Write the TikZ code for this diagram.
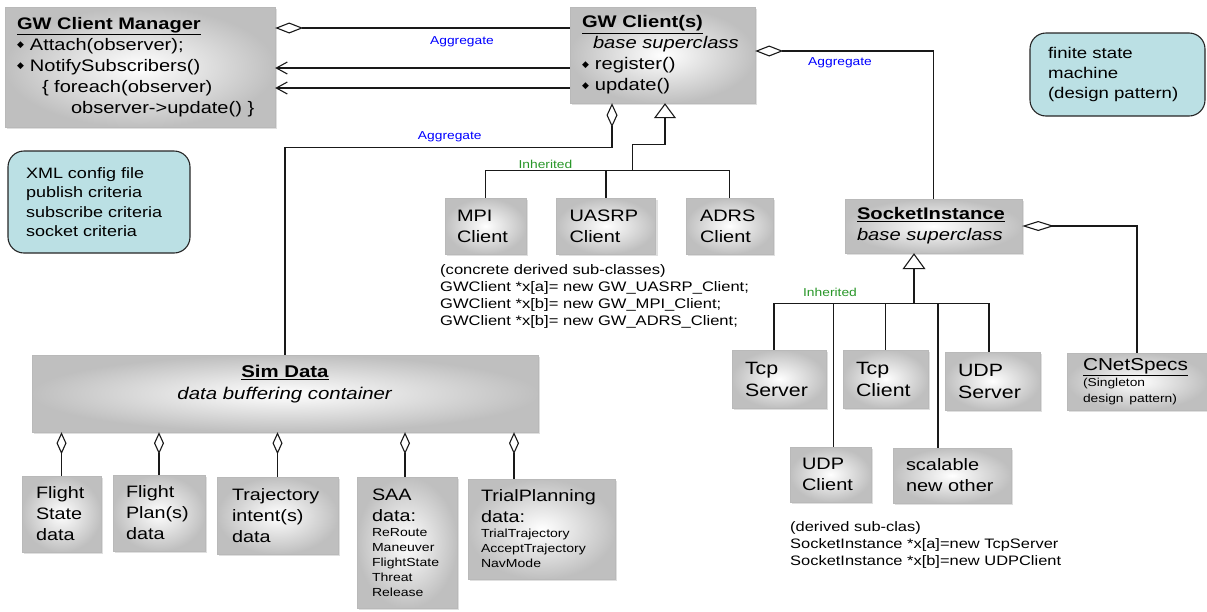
\documentclass[tikz,border=0pt]{standalone}
\usepackage{fontspec}
\setmainfont{Liberation Sans}[FakeStretch=1.2]
\newfontfamily\bulfont{DejaVu Sans}
\usetikzlibrary{arrows.meta, shadows, calc}

\definecolor{notefill}{RGB}{187,224,228}
\definecolor{inhgreen}{RGB}{40,150,40}
\newcommand{\setfs}[2]{\fontsize{#1}{#2}\selectfont}
\newcommand{\bul}{\raisebox{2.5pt}{\bulfont\fontsize{9}{9}\selectfont ◆}\hspace{6pt}}

\begin{document}
\begin{tikzpicture}[x=1pt, y=-1pt,
    cls/.style={rectangle, draw=gray!55, inner color=white, outer color=gray!50, drop shadow={shadow xshift=2pt, shadow yshift=-2pt, opacity=.25}, align=left, inner ysep=0pt},
    note/.style={rectangle, rounded corners=16pt, draw=black!85, line width=1.1pt, fill=notefill, align=left},
    wire/.style={draw=black!90, line width=1.1pt},
    aggr/.style={wire, -{Diamond[open, length=28pt, width=11pt]}},
    aggrs/.style={wire, -{Diamond[open, length=22pt, width=10pt]}},
    inh/.style={wire, -{Triangle[open, length=15pt, width=22pt]}},
    msg/.style={wire, -{Straight Barb[length=11pt, width=12pt]}},
    lbl/.style={font=\setfs{11.5}{13}, text=blue, inner sep=0pt},
    inhlbl/.style={font=\setfs{11.5}{13}, text=inhgreen, inner sep=0pt}
]
\useasboundingbox (0,0) rectangle (1207,611);

% observer side
\node[cls, minimum width=270pt, minimum height=120pt, inner xsep=12pt, text width=246pt, font=\setfs{16.7}{21}] (mgr) at (140,67)
  {\underline{\textbf{GW Client Manager}}\\\bul Attach(observer);\\\bul NotifySubscribers()\\\hspace*{25pt}\{ foreach(observer)\\\hspace*{54pt}observer->update() \}};
\node[cls, minimum width=185pt, minimum height=96pt, inner xsep=12pt, text width=161pt, font=\setfs{16.8}{21}] (gwc) at (662.5,55)
  {\underline{\textbf{GW Client(s)}}\\\hspace*{11pt}\textit{base superclass}\\\bul register()\\\bul update()};

% notes
\node[note, minimum width=175pt, minimum height=83pt, inner xsep=18pt, text width=139pt, font=\setfs{15.5}{20}] (fsm) at (1117.5,74.5)
  {finite state\\machine\\(design pattern)};
\node[note, minimum width=182pt, minimum height=102pt, inner xsep=18pt, text width=146pt, font=\setfs{15}{19.5}] (xml) at (99,202)
  {XML config file\\publish criteria\\subscribe criteria\\socket criteria};

% concrete clients
\node[cls, minimum width=81pt, minimum height=56pt, inner xsep=12pt, text width=57pt, font=\setfs{16.6}{21}] (mpi) at (485.5,226) {MPI\\Client};
\node[cls, minimum width=99pt, minimum height=56pt, inner xsep=13pt, text width=73pt, font=\setfs{16.6}{21}] (uasrp) at (606,226) {UASRP\\Client};
\node[cls, minimum width=87pt, minimum height=56pt, inner xsep=14pt, text width=59pt, font=\setfs{16.6}{21}] (adrs) at (729.5,226) {ADRS\\Client};
\node[anchor=north west, inner sep=0pt, align=left, font=\setfs{13.8}{17}] (cnote) at (440,264)
  {(concrete derived sub-classes)\\GWClient *x[a]= new GW\_UASRP\_Client;\\GWClient *x[b]= new GW\_MPI\_Client;\\GWClient *x[b]= new GW\_ADRS\_Client;};

% sockets
\node[cls, minimum width=177pt, minimum height=54pt, inner xsep=12pt, text width=153pt, font=\setfs{16.8}{21}] (sock) at (933.5,226)
  {\underline{\textbf{SocketInstance}}\\\textit{base superclass}};
\node[cls, minimum width=94pt, minimum height=58pt, inner xsep=13pt, text width=68pt, font=\setfs{17.8}{22}] (tcps) at (779,379) {Tcp\\Server};
\node[cls, minimum width=85pt, minimum height=58pt, inner xsep=13pt, text width=59pt, font=\setfs{17.8}{22}] (tcpc) at (885.5,379) {Tcp\\Client};
\node[cls, minimum width=95pt, minimum height=58pt, inner xsep=13pt, text width=69pt, font=\setfs{17.8}{22}] (udps) at (992.5,381) {UDP\\Server};
\node[cls, minimum width=140pt, minimum height=57pt, inner xsep=16pt, text width=108pt, font=\setfs{17.3}{20}] (cnet) at (1137,381.5)
  {\underline{CNetSpecs}\par\setfs{11.5}{16}(Singleton\\design pattern)\par};
\node[cls, minimum width=81pt, minimum height=55pt, inner xsep=12pt, text width=57pt, font=\setfs{16.6}{21}] (udpc) at (830.5,474.5) {UDP\\Client};
\node[cls, minimum width=118pt, minimum height=55pt, inner xsep=13pt, text width=92pt, font=\setfs{16.6}{21}] (scal) at (952,475.5) {scalable\\new other};
\node[anchor=north west, inner sep=0pt, align=left, font=\setfs{13.7}{17}] (dnote) at (790,521)
  {(derived sub-clas)\\SocketInstance *x[a]=new TcpServer\\SocketInstance *x[b]=new UDPClient};

% sim data
\node[cls, align=center, minimum width=506pt, minimum height=77pt, text width=480pt, font=\setfs{17}{22}] (sim) at (285,393.5)
  {\underline{\textbf{Sim Data}}\\\textit{data buffering container}\\\mbox{}};
\node[cls, minimum width=79pt, minimum height=76pt, inner xsep=14pt, text width=51pt, font=\setfs{16.5}{21}] (fs) at (61.5,514) {Flight\\State\\data};
\node[cls, minimum width=92pt, minimum height=76pt, inner xsep=13pt, text width=66pt, font=\setfs{16.5}{21}] (fp) at (159,513) {Flight\\Plan(s)\\data};
\node[cls, minimum width=121pt, minimum height=77pt, inner xsep=15pt, text width=91pt, font=\setfs{16.5}{21}] (tr) at (277.5,515.5) {Trajectory\\intent(s)\\data};
\node[cls, minimum width=100pt, minimum height=131pt, inner xsep=15pt, text width=70pt, font=\setfs{16.5}{21}] (saa) at (407,542.5)
  {SAA\\data:\par\setfs{11.7}{15}ReRoute\\Maneuver\\FlightState\\Threat\\Release\par};
\node[cls, minimum width=147pt, minimum height=100pt, inner xsep=13pt, text width=121pt, font=\setfs{16.5}{21}] (tp) at (541.5,529)
  {TrialPlanning\\data:\par\setfs{11.7}{15}TrialTrajectory\\AcceptTrajectory\\NavMode\par};

% manager <-> clients
\draw[aggr] ([yshift=27pt]gwc.west) -- node[lbl, pos=.366, yshift=-14pt] (agg1) {Aggregate} ([yshift=39pt]mgr.east);
\draw[msg] ([yshift=-13pt]gwc.west) -- ([yshift=-1pt]mgr.east);
\draw[msg] ([yshift=-33pt]gwc.west) -- ([yshift=-21pt]mgr.east);
\draw[aggr] (sock.north) |- node[lbl, pos=.762, yshift=-12pt] (agg2) {Aggregate} ([yshift=4pt]gwc.east);
\draw[aggr, -{Diamond[open, length=24pt, width=11pt]}] (sim.north) |- node[lbl, pos=.752, yshift=10pt] (agg3) {Aggregate} ([xshift=-50.5pt, yshift=-44pt]gwc.south) -- ([xshift=-50.5pt]gwc.south);

% client inheritance
\coordinate (cjoin) at ([xshift=26.5pt, yshift=27pt]uasrp.north);
\draw[inh] (cjoin) -- ++(0,-26) -| ([xshift=2.5pt]gwc.south);
\draw[wire] (mpi.north) |- node[inhlbl, pos=.704, yshift=6.5pt] (inh1) {Inherited} (cjoin) -| (adrs.north);
\draw[wire] (uasrp.north) -- (uasrp.north |- cjoin);

% socket inheritance
\coordinate (sjoin) at ([xshift=-19.5pt, yshift=-50pt]sock.south);
\draw[inh, -{Triangle[open, length=16pt, width=23pt]}] (sjoin) -- ([xshift=-19.5pt]sock.south);
\draw[wire] ([xshift=-5pt]tcps.north) |- node[inhlbl, pos=.70, yshift=11pt] (inh2) {Inherited} (sjoin) -| ([xshift=-3.5pt]udps.north);
\draw[wire] (tcpc.north) -- (tcpc.north |- sjoin);
\draw[wire] ([xshift=3pt]udpc.north) -- ([xshift=3pt]udpc.north |- sjoin);
\draw[wire] ([xshift=-14pt]scal.north) -- ([xshift=-14pt]scal.north |- sjoin);
\draw[aggr, -{Diamond[open, length=32pt, width=10pt]}] (cnet.north) |- (sock.east);

% sim data parts
\draw[aggrs] (fs.north) -- (fs.north |- sim.south);
\draw[aggrs] (fp.north) -- (fp.north |- sim.south);
\draw[aggrs] (tr.north) -- (tr.north |- sim.south);
\draw[aggrs] ([xshift=-2pt]saa.north) -- ([xshift=-2pt]saa.north |- sim.south);
\draw[aggrs] ([xshift=-27.5pt]tp.north) -- ([xshift=-27.5pt]tp.north |- sim.south);

\end{tikzpicture}
\end{document}
